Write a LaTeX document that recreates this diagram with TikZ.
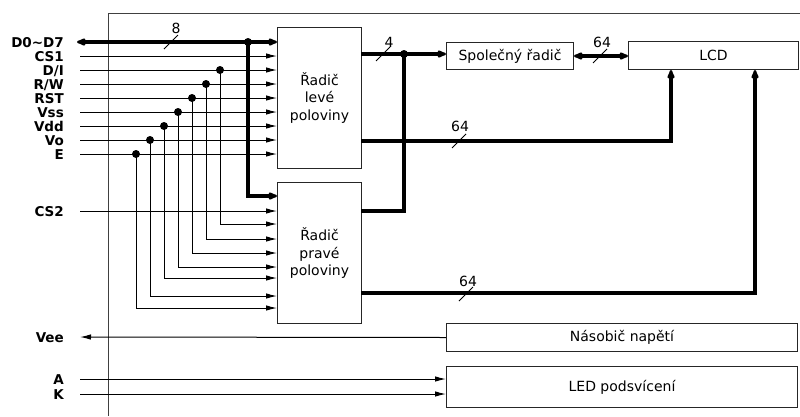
\documentclass[tikz,border=0pt]{standalone}
\usepackage{fontspec}
\setmainfont{DejaVu Sans}
\usetikzlibrary{arrows.meta}
\begin{document}
\begin{tikzpicture}[x=1pt,y=-1pt,
  box/.style={draw=black!85, line width=1pt, anchor=north west, inner sep=0pt, align=center, font=\fontsize{14}{17.5}\selectfont},
  sig/.style={line width=1pt},
  sigarr/.style={sig, -{Latex[length=11pt,width=5.5pt]}},
  bus/.style={line width=3.5pt},
  busarr/.style={bus, -{Latex[length=12pt,width=9pt,round]}},
  pin/.style={anchor=base east, font=\bfseries\fontsize{13.5}{14}\selectfont, inner sep=0pt},
  jdot/.style={circle, fill=black, inner sep=0pt, minimum size=8pt},
  num/.style={font=\fontsize{14}{15}\selectfont, inner sep=0pt},
  slash/.style={line width=1pt}
]
\useasboundingbox (0,0) rectangle (800,416);
% frame
\draw[line width=1pt, black!75] (800,13) -- (108,13) -- (108,416);

% boxes
\node[box, minimum width=84pt, minimum height=141pt] (L) at (277,27) {Řadič\\levé\\poloviny};
\node[box, minimum width=84pt, minimum height=141pt] (R) at (277,182) {Řadič\\pravé\\poloviny};
\node[box, minimum width=127pt, minimum height=27pt] (S) at (446,42) {Společný řadič};
\node[box, minimum width=170pt, minimum height=28pt] (LCD) at (628,41) {LCD};
\node[box, minimum width=351pt, minimum height=28pt] (N) at (446,323) {Násobič napětí};
\node[box, minimum width=351pt, minimum height=41pt] (LED) at (446,366) {LED podsvícení};

% pin labels
\node[pin] (lD) at (64,47) {D0\textasciitilde D7};
\node[pin] (lCS1) at (64,61) {CS1};
\node[pin] (lDI) at (64,75) {D/I};
\node[pin] (lRW) at (64,89) {R/W};
\node[pin] (lRST) at (64,103) {RST};
\node[pin] (lVss) at (64,117) {Vss};
\node[pin] (lVdd) at (64,131) {Vdd};
\node[pin] (lVo) at (64,145) {Vo};
\node[pin] (lE) at (64,159) {E};
\node[pin] (lCS2) at (64,216) {CS2};
\node[pin] (lVee) at (64,342) {Vee};
\node[pin] (lA) at (64,384) {A};
\node[pin] (lK) at (64,399) {K};

% pin line starts
\coordinate (pD) at (77,42);
\coordinate (pCS1) at (80,56);
\coordinate (pDI) at (80,70);
\coordinate (pRW) at (80,84);
\coordinate (pRST) at (80,98);
\coordinate (pVss) at (80,112);
\coordinate (pVdd) at (80,126);
\coordinate (pVo) at (80,140);
\coordinate (pE) at (80,154);
\coordinate (pCS2) at (80,211);
\coordinate (pVee) at (80,337);
\coordinate (pA) at (80,379);
\coordinate (pK) at (80,394);

% right box inputs
\coordinate (rB) at (277,196);
\coordinate (rCS2) at (277,211);
\coordinate (rDI) at (277,224);
\coordinate (rRW) at (277,239);
\coordinate (rRST) at (277,253);
\coordinate (rVss) at (277,267);
\coordinate (rVdd) at (277,278);
\coordinate (rVo) at (277,296);
\coordinate (rE) at (277,308);

% junction dots
\node[jdot] (jB) at (248,42) {};
\node[jdot] (jDI) at (220,70) {};
\node[jdot] (jRW) at (206,84) {};
\node[jdot] (jRST) at (192,98) {};
\node[jdot] (jVss) at (178,112) {};
\node[jdot] (jVdd) at (164,126) {};
\node[jdot] (jVo) at (150,140) {};
\node[jdot] (jE) at (136,154) {};

% data bus
\draw[bus, {Latex[length=12pt,width=9pt,round]}-{Latex[length=12pt,width=9pt,round]}] (pD) -- (pD -| L.west);
\draw[busarr] (jB.center) |- (rB);
\draw[slash] (164,49) -- (178,35);
\node[num] (n8) at (176,28) {8};

% control lines to left box
\foreach \p in {CS1,DI,RW,RST,Vss,Vdd,Vo,E}
  \draw[sigarr] (p\p) -- (p\p -| L.west);
% branches to right box
\foreach \p in {DI,RW,RST,Vss,Vdd,Vo,E}
  \draw[sigarr] (j\p.center) |- (r\p);
\draw[sigarr] (pCS2) -- (rCS2);

% outputs of controllers
\coordinate (o4) at (361,54);
\node[jdot] (j4) at (404,54) {};
\coordinate (oR4) at (361,211);
\draw[busarr] (o4) -- (o4 -| S.west);
\draw[bus] (j4.center) |- (oR4);
\draw[slash] (376,61) -- (390,47);
\node[num] (n4) at (389,42) {4};

\draw[bus, {Latex[length=12pt,width=9pt,round]}-{Latex[length=12pt,width=9pt,round]}] (S.east) -- (S.east -| LCD.west);
\draw[slash] (593,63) -- (607,49);
\node[num] (n64c) at (602,42) {64};

\coordinate (oL64) at (361,141);
\coordinate (oR64) at (361,293);
\draw[busarr] (oL64) -| ([xshift=43pt]LCD.south west);
\draw[busarr] (oR64) -| ([xshift=127pt]LCD.south west);
\draw[slash] (452,148) -- (466,134);
\node[num] (n64a) at (460,126) {64};
\draw[slash] (459,301) -- (473,287);
\node[num] (n64b) at (468,281) {64};

% voltage multiplier and LED
\draw[sigarr] (N.west) -- (pVee);
\draw[sigarr] (pA) -- (pA -| LED.west);
\draw[sigarr] (pK) -- (pK -| LED.west);
\end{tikzpicture}
\end{document}
